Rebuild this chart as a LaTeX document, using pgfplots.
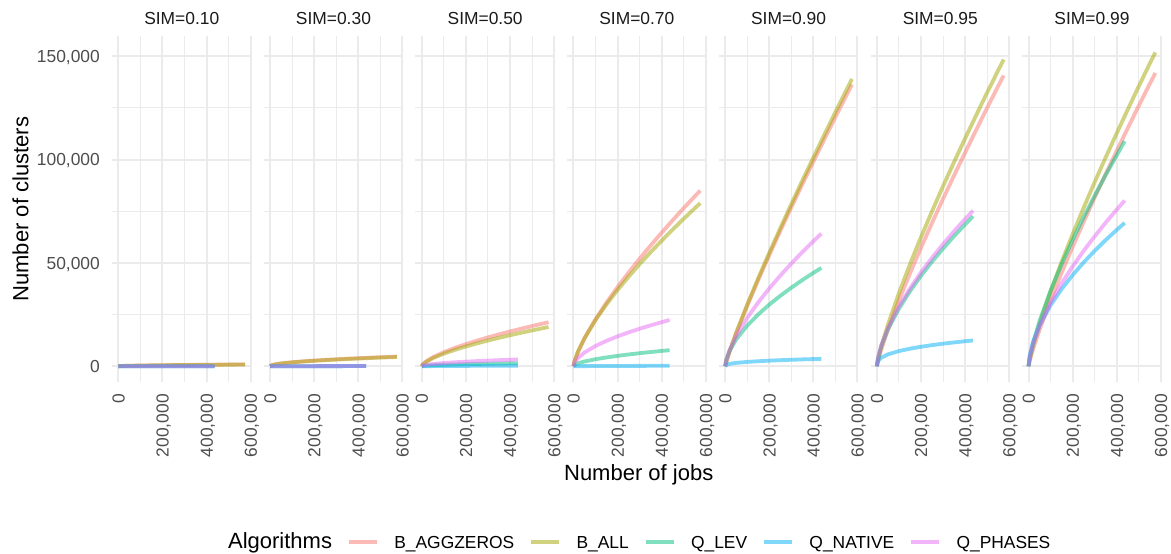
\documentclass[border=0pt]{standalone}
\usepackage{fontspec}
\setmainfont{Liberation Sans}
\usepackage{pgfplots}
\pgfplotsset{compat=1.18}
\usepackage{pgfplotstable}

\definecolor{cA}{HTML}{F8766D}
\definecolor{cB}{HTML}{A3A500}
\definecolor{cC}{HTML}{00BF7D}
\definecolor{cD}{HTML}{00B0F6}
\definecolor{cE}{HTML}{E76BF3}
\definecolor{gridc}{HTML}{EBEBEB}
\definecolor{tickc}{HTML}{4D4D4D}
\definecolor{stripc}{HTML}{1A1A1A}

\newcommand{\ticksz}{\fontsize{17.4pt}{17.4pt}\selectfont}
\newcommand{\titlesz}{\fontsize{22pt}{22pt}\selectfont}

% B_* series (x up to 575,000): a = B_AGGZEROS, b = B_ALL, panel index 1..7
\pgfplotstableread{
x      a1  b1  a2   b2   a3    b3    a4    b4    a5     b5     a6     b6     a7     b7
0      0   0   0    0    0     0     0     0     0      0      0      0      0      0
5000   84  79  440  420  980   870   2360  2590  2100   2140   2500   3030   2520   3100
20000  168 159 880  840  2400  2140  6740  7030  7100   7240   8100   9450   8170   9680
50000  266 251 1390 1330 4360  3890  13450 13600 15900  16210  17640  20050  17790  20520
100000 375 354 1960 1880 6830  6100  22700 22400 29250  29830  31810  35360  32080  36200
150000 460 434 2400 2300 8900  7940  30840 30000 41800  42630  44930  49340  45310  50510
200000 531 502 2770 2660 10720 9570  38310 36900 53830  54890  57340  62420  57830  63890
250000 593 560 3100 2970 12400 11060 45320 43300 65500  66790  69310  74960  69900  76730
300000 650 614 3400 3250 13960 12450 52020 49420 76930  78450  80970  87100  81660  89150
350000 702 663 3670 3510 15440 13770 58450 55210 88100  89840  92300  98810  93090  101140
400000 751 709 3920 3750 16820 15010 64630 60780 99070  101030 103340 110190 104220 112790
450000 797 752 4160 3980 18170 16210 70640 66140 109880 112050 114250 121390 115230 124250
500000 840 793 4390 4200 19460 17360 76530 71390 120620 123000 125040 132420 126100 135540
550000 880 831 4600 4400 20700 18460 82220 76440 131120 133720 135540 143150 136690 146520
575000 900 850 4700 4500 21300 19000 85000 78900 136300 139000 140700 148400 141900 151900
}\tabB

% Q_* series (x up to 436,000): l = Q_LEV, n = Q_NATIVE, p = Q_PHASES
\pgfplotstableread{
x      l1 n1 p1 l2  n2  p2  l3   n3  p3   l4   n4  p4    l5    n5   p5    l6    n6    p6    l7     n7    p7
0      0  0  0  0   0   0   0    0   0    0    0   0     0     0    0     0     0     0     0      0     0
5000   4  4  4  10  10  10  160  30  350  640  25  1830  3260  720  3000  3980  2500  4130  4000   5200  4390
20000  8  8  8  20  20  20  320  60  710  1390 50  3990  7490  1190 7780  9790  4120  10160 11140  11620 10820
50000  12 12 12 30  30  30  510  100 1120 2320 80  6660  12990 1650 14570 17770 5740  18430 21940  19770 19630
100000 17 17 17 45  45  45  720  140 1580 3420 110 9820  19680 2120 23430 27890 7360  28920 36650  29550 30800
150000 21 21 21 55  55  55  880  180 1940 4290 140 12320 25100 2450 30910 36290 8510  37630 49440  37370 40080
200000 25 25 25 65  65  65  1020 200 2240 5040 160 14480 29840 2720 37650 43770 9450  45400 61190  44170 48350
250000 29 29 29 75  75  75  1140 230 2500 5720 180 16410 34100 2950 43860 50580 10230 52460 72170  50270 55870
300000 33 33 33 85  85  85  1240 250 2740 6330 200 18170 38030 3150 49690 56940 10930 59060 82570  55870 62900
350000 37 37 37 95  95  95  1340 270 2960 6900 220 19810 41740 3330 55260 62970 11550 65310 92610  61120 69560
400000 41 41 41 105 105 105 1440 290 3160 7430 235 21340 45190 3490 60500 68630 12120 71180 102140 66000 75810
436000 45 45 45 110 110 110 1500 300 3300 7800 250 22400 47600 3600 64200 72600 12500 75300 108900 69400 80200
}\tabQ

\pgfplotsset{
  panel/.style={
    scale only axis, width=139.5pt, height=346pt, anchor=south west,
    xmin=-28750, xmax=603750, ymin=-7600, ymax=159800,
    scaled x ticks=false, scaled y ticks=false,
    axis line style={draw=none}, tick style={draw=none},
    major tick length=0pt, minor tick length=0pt,
    xtick={0,200000,400000,600000}, minor xtick={100000,300000,500000},
    ytick={0,50000,100000,150000}, minor ytick={25000,75000,125000},
    grid=both,
    major grid style={draw=gridc, line width=2pt},
    minor grid style={draw=gridc, line width=1pt},
    xticklabels={0,{200,000},{400,000},{600,000}},
    xticklabel style={font=\ticksz, text=tickc, rotate=90, anchor=east, inner sep=0pt, text height=12.5pt, text depth=0pt},
    xticklabel shift=12pt,
    yticklabels={},
    yticklabel style={font=\ticksz, text=tickc, anchor=east, inner sep=0pt, text height=12.5pt, text depth=0pt},
    yticklabel shift=12pt,
    every axis title/.style={at={(0.5,1)}, anchor=base, yshift=11.7pt, font=\ticksz, text=stripc, inner sep=0pt},
    every axis plot/.append style={line width=3.8pt, opacity=0.5, line cap=butt, line join=round, no markers},
  }
}

\newcommand{\plots}[1]{%
  \addplot[cA] table[x=x, y=a#1]{\tabB};
  \addplot[cB] table[x=x, y=b#1]{\tabB};
  \addplot[cC] table[x=x, y=l#1]{\tabQ};
  \addplot[cD] table[x=x, y=n#1]{\tabQ};
  \addplot[cE] table[x=x, y=p#1]{\tabQ};
}

\begin{document}
\begin{tikzpicture}
\path[use as bounding box] (0pt,0pt) rectangle (1171pt,554pt);

\begin{axis}[panel, at={(112pt,172pt)}, title={SIM=0.10},
  yticklabels={0,{50,000},{100,000},{150,000}}]
\plots{1}
\end{axis}

\begin{axis}[panel, at={(263.7pt,172pt)}, title={SIM=0.30}]
\plots{2}
\end{axis}

\begin{axis}[panel, at={(415.4pt,172pt)}, title={SIM=0.50}]
\plots{3}
\end{axis}

\begin{axis}[panel, at={(567.1pt,172pt)}, title={SIM=0.70},
  legend columns=-1,
  legend style={draw=none, fill=none, at={(0.4616,-0.4934)}, anchor=south,
    inner sep=0pt, outer sep=0pt, font=\ticksz, text=black,
    nodes={inner sep=0pt, anchor=base, text height=12pt, text depth=4pt},
    /tikz/every odd column/.append style={column sep=15.5pt},
    /tikz/every even column/.append style={column sep=15pt}},
  legend image code/.code={\draw[#1] (0pt,7pt) -- (28pt,7pt);},
  legend entries={{\titlesz Algorithms}, B\_AGGZEROS, B\_ALL, Q\_LEV, Q\_NATIVE, Q\_PHASES}]
\addlegendimage{empty legend}
\plots{4}
\end{axis}

\begin{axis}[panel, at={(718.8pt,172pt)}, title={SIM=0.90}]
\plots{5}
\end{axis}

\begin{axis}[panel, at={(870.5pt,172pt)}, title={SIM=0.95}]
\plots{6}
\end{axis}

\begin{axis}[panel, at={(1022.2pt,172pt)}, title={SIM=0.99}]
\plots{7}
\end{axis}

\node[font=\titlesz, anchor=base] at (638.7pt,73.5pt) {Number of jobs};
\node[font=\titlesz, rotate=90, anchor=base] at (28.3pt,344.8pt) {Number of clusters};
\end{tikzpicture}
\end{document}
